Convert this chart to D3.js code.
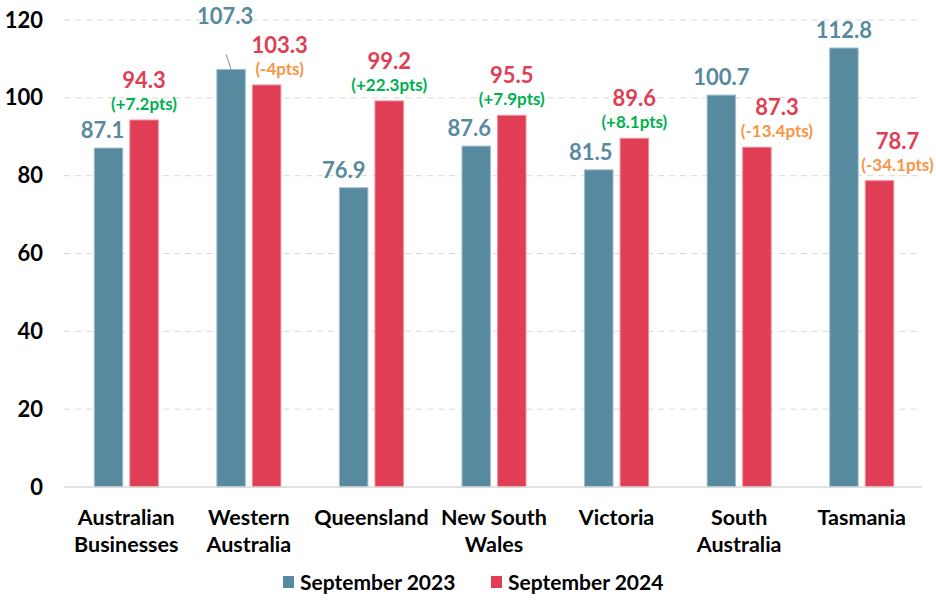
<!DOCTYPE html>
<html>
<head>
<meta charset="utf-8">
<script src="https://cdn.jsdelivr.net/npm/d3@7.9.0/dist/d3.min.js"></script>
<style>
  body { margin: 0; background: #fff; }
  svg { font-family: Lato, "Open Sans", sans-serif; font-weight: bold; }
</style>
</head>
<body>
<svg id="chart" width="936" height="610"></svg>
<script>
// data
const categories = [
  ['Australian', 'Businesses'],
  ['Western', 'Australia'],
  ['Queensland'],
  ['New South', 'Wales'],
  ['Victoria'],
  ['South', 'Australia'],
  ['Tasmania']
];
const seriesNames = ['September 2023', 'September 2024'];
const sep2023 = [87.1, 107.3, 76.9, 87.6, 81.5, 100.7, 112.8];
const sep2024 = [94.3, 103.3, 99.2, 95.5, 89.6, 87.3, 78.7];
const changeLabels = ['(+7.2pts)', '(-4pts)', '(+22.3pts)', '(+7.9pts)', '(+8.1pts)', '(-13.4pts)', '(-34.1pts)'];
const yTicks = [0, 20, 40, 60, 80, 100, 120];

// small horizontal nudges of data labels (as placed in the original)
const nudge2023 = [-6, -6, -10, -7, -8, 0, 0];
const nudge2024 = [0, 13, 0, 0, 0, 20, 18];

const colors = { blue: '#588a9f', red: '#e03e54', green: '#00b050', orange: '#f79646' };

const svg = d3.select('#chart');
const keys = categories.map(c => c.join(' '));

const x0 = d3.scaleBand().domain(keys).range([65, 923]);
const bw = x0.bandwidth();
const x1 = d3.scaleBand().domain(seriesNames).range([bw / 2 - 32, bw / 2 + 32]).paddingInner(0.2);
const y = d3.scaleLinear().domain([0, 120]).range([487, 20]);

// gridlines
svg.append('g')
  .selectAll('line')
  .data(yTicks.filter(d => d > 0))
  .join('line')
  .attr('x1', 64).attr('x2', 922)
  .attr('y1', d => y(d)).attr('y2', d => y(d))
  .attr('stroke', '#d9d9d9')
  .attr('stroke-dasharray', '6,5');

// y axis labels
const yAxis = svg.append('g')
  .attr('transform', 'translate(43,0)')
  .call(d3.axisLeft(y).tickValues(yTicks).tickSize(0).tickPadding(0));
yAxis.select('.domain').remove();
yAxis.selectAll('text')
  .attr('font-size', 22)
  .attr('font-family', 'Lato, sans-serif')
  .attr('font-weight', 'bold')
  .attr('fill', '#000');

// bars
const rows = keys.map((k, i) => ({ key: k, i, vals: [sep2023[i], sep2024[i]] }));
const groups = svg.append('g')
  .selectAll('g')
  .data(rows)
  .join('g')
  .attr('transform', d => `translate(${x0(d.key)},0)`);

groups.selectAll('rect')
  .data(d => d.vals.map((v, j) => ({ s: seriesNames[j], v, j })))
  .join('rect')
  .attr('x', d => x1(d.s))
  .attr('width', x1.bandwidth())
  .attr('y', d => y(d.v))
  .attr('height', d => y(0) - y(d.v))
  .attr('fill', d => d.j === 0 ? colors.blue : colors.red)
  .attr('stroke', d => d.j === 0 ? '#9dbecb' : '#f08b99')
  .attr('stroke-width', 1);

// baseline
svg.append('line')
  .attr('x1', 64).attr('x2', 922)
  .attr('y1', y(0)).attr('y2', y(0))
  .attr('stroke', '#d9d9d9').attr('stroke-width', 1.5);

// value labels 2023
const blueX = d => x1(seriesNames[0]) + x1.bandwidth() / 2 + nudge2023[d.i];
groups.append('text')
  .attr('x', blueX)
  .attr('y', d => d.i === 1 ? y(d.vals[0]) - 45 : y(d.vals[0]) - 10)
  .attr('text-anchor', 'middle')
  .attr('font-size', 22)
  .attr('fill', colors.blue)
  .text(d => d.vals[0].toFixed(1));

// leader line for the lifted label
groups.filter(d => d.i === 1).append('line')
  .attr('x1', d => blueX(d) + 1)
  .attr('y1', d => y(d.vals[0]) - 15)
  .attr('x2', d => blueX(d) + 6)
  .attr('y2', d => y(d.vals[0]))
  .attr('stroke', '#8c8c8c').attr('stroke-width', 1);

// value labels 2024 + change
const redX = d => x1(seriesNames[1]) + x1.bandwidth() / 2 + nudge2024[d.i];
groups.append('text')
  .attr('x', redX)
  .attr('y', d => y(d.vals[1]) - 32)
  .attr('text-anchor', 'middle')
  .attr('font-size', 22)
  .attr('fill', colors.red)
  .text(d => d.vals[1].toFixed(1));

groups.append('text')
  .attr('x', redX)
  .attr('y', d => y(d.vals[1]) - 10)
  .attr('text-anchor', 'middle')
  .attr('font-size', 17)
  .attr('fill', d => d.vals[1] >= d.vals[0] ? colors.green : colors.orange)
  .text(d => changeLabels[d.i]);

// category labels
const xl = svg.append('g')
  .selectAll('text')
  .data(categories)
  .join('text')
  .attr('x', (d, i) => x0(keys[i]) + bw / 2)
  .attr('y', 525)
  .attr('text-anchor', 'middle')
  .attr('font-size', 21.5)
  .attr('fill', '#000');
xl.selectAll('tspan')
  .data(d => d)
  .join('tspan')
  .attr('x', function () { return this.parentNode.getAttribute('x'); })
  .attr('dy', (d, i) => i === 0 ? 0 : 27)
  .text(d => d);

// legend
const legend = svg.append('g').attr('transform', 'translate(283,582)');
const legendX = [0, 208];
seriesNames.forEach((s, i) => {
  const g = legend.append('g').attr('transform', `translate(${legendX[i]},0)`);
  g.append('rect').attr('x', 0).attr('y', -6).attr('width', 11).attr('height', 12)
    .attr('fill', i === 0 ? colors.blue : colors.red);
  g.append('text').attr('x', 17).attr('y', 7.5).attr('font-size', 21).attr('fill', '#000').text(s);
});
</script>
</body>
</html>
